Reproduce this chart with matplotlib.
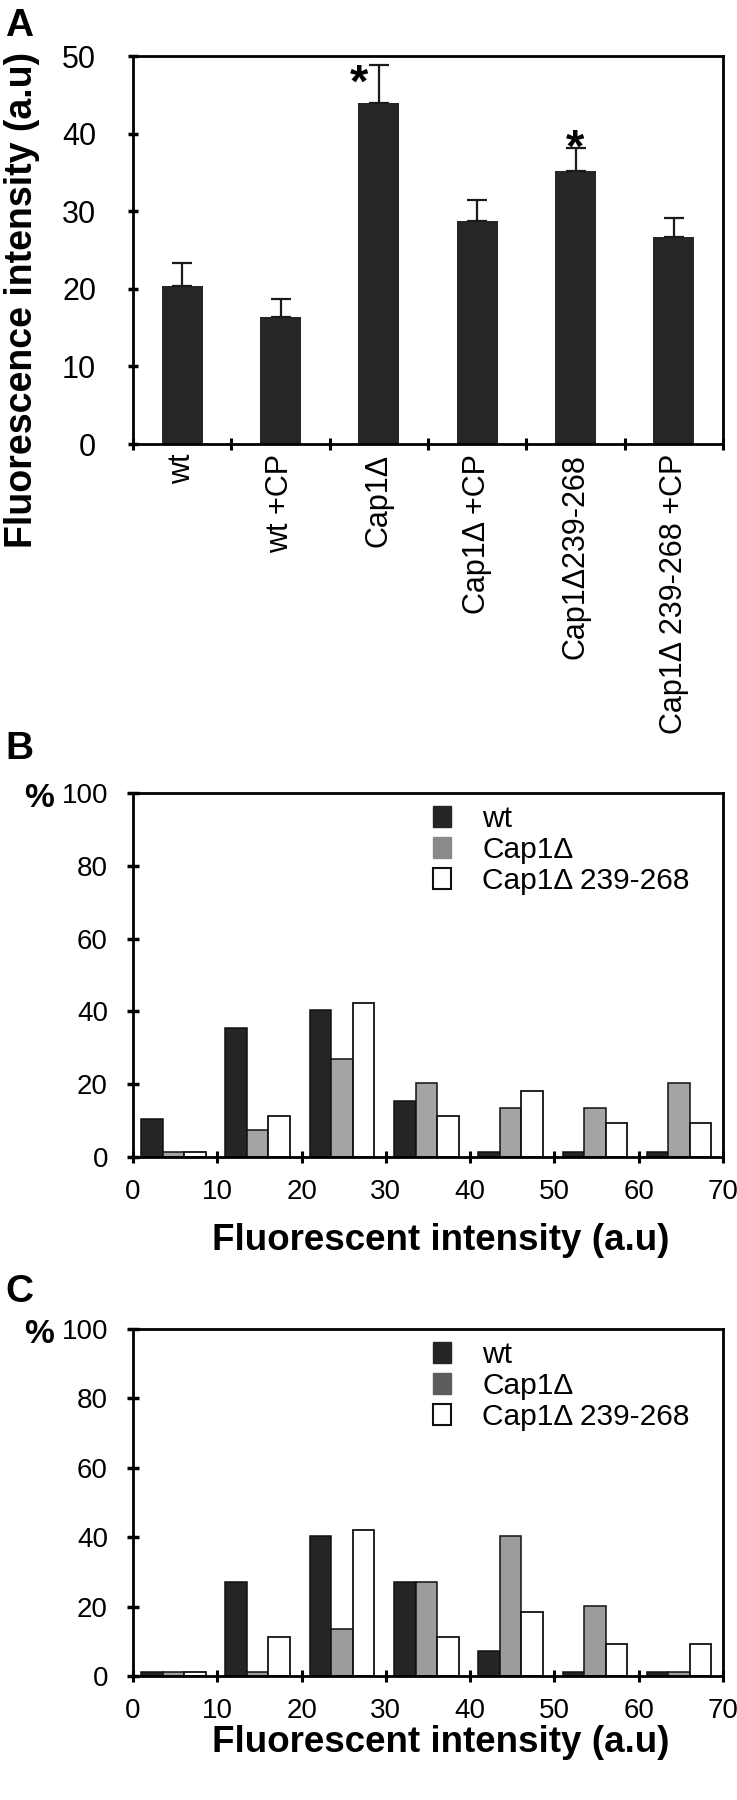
import matplotlib
matplotlib.use('Agg')
import matplotlib.pyplot as plt
from matplotlib.patches import Patch
import numpy as np

plt.rcParams['font.family'] = ['Liberation Sans', 'DejaVu Sans']

# ---------------- Data ----------------
# Panel A
a_categories = ['wt', 'wt +CP', 'Cap1Δ', 'Cap1Δ +CP', 'Cap1Δ239-268', 'Cap1Δ 239-268 +CP']
a_means = [20.4, 16.4, 44.0, 28.8, 35.2, 26.7]
a_errors = [2.9, 2.3, 4.8, 2.7, 2.9, 2.4]
a_significant = [False, False, True, False, True, False]

# Panels B and C (histograms, % of cells per intensity bin)
bin_starts = [0, 10, 20, 30, 40, 50, 60]
series_labels = ['wt', 'Cap1Δ', 'Cap1Δ 239-268']
b_wt = [10.4, 35.4, 40.3, 15.4, 1.3, 1.3, 1.3]
b_cap1 = [1.3, 7.3, 27.0, 20.3, 13.4, 13.4, 20.3]
b_cap1_239 = [1.3, 11.2, 42.3, 11.2, 18.2, 9.3, 9.3]
c_wt = [1.1, 27.2, 40.4, 27.2, 7.3, 1.1, 1.1]
c_cap1 = [1.1, 1.1, 13.5, 27.2, 40.4, 20.2, 1.1]
c_cap1_239 = [1.1, 11.3, 42.1, 11.3, 18.3, 9.2, 9.2]

W, H = 737, 1800
fig = plt.figure(figsize=(W / 100, H / 100), dpi=100)

SPINE_LW = 2.0


def frac_rect(left, top, right, bottom):
    return [left / W, 1 - bottom / H, (right - left) / W, (bottom - top) / H]


# ---------------- Panel A ----------------
axA = fig.add_axes(frac_rect(133, 56, 723, 444))
x = np.arange(len(a_categories))
axA.bar(x, a_means, width=0.42, color='#262626', zorder=2)
axA.errorbar(x, a_means, yerr=[np.zeros(len(x)), a_errors], fmt='none',
             ecolor='#1a1a1a', elinewidth=1.6, capsize=7, capthick=1.6, zorder=3)
star_dx = {2: -0.2, 4: 0.0}
star_dy = {2: -4.1, 4: -1.7}
for i, sig in enumerate(a_significant):
    if sig:
        axA.text(i + star_dx[i], a_means[i] + a_errors[i] + star_dy[i], '*',
                 fontsize=34, fontweight='bold', ha='center', va='baseline', zorder=4)
axA.set_xlim(-0.5, len(x) - 0.5)
axA.set_ylim(0, 50)
axA.set_yticks(np.arange(0, 51, 10))
axA.set_xticks(x)
axA.set_xticklabels(a_categories, rotation=90, fontsize=22)
axA.set_xticks(np.arange(-0.5, len(x), 1), minor=True)
axA.tick_params(axis='x', which='major', length=0, pad=7)
axA.tick_params(axis='x', which='minor', direction='inout', length=9, width=2.2)
axA.tick_params(axis='y', direction='inout', length=7, width=2.5, pad=23, labelsize=22)
for s in axA.spines.values():
    s.set_linewidth(SPINE_LW)
fig.text(5 / W, 1 - 26 / H, 'A', fontsize=28, fontweight='bold', ha='left', va='center')
fig.text(22 / W, 1 - 300 / H, 'Fluorescence intensity (a.u)', fontsize=27,
         fontweight='bold', rotation=90, ha='center', va='center')


# ---------------- Panels B / C ----------------
def hist_panel(rect, wt, cap1, cap1_239, gray, legend_gray, letter, letter_y, xlabel_y):
    ax = fig.add_axes(rect)
    starts = np.array(bin_starts, dtype=float)
    bw = 2.55
    x0 = 0.97
    ax.bar(starts + x0 + bw / 2, wt, width=bw, color='#252525', edgecolor='#111111',
           linewidth=1.1, zorder=2)
    ax.bar(starts + x0 + 1.5 * bw, cap1, width=bw, color=gray, edgecolor='#111111',
           linewidth=1.1, zorder=2)
    ax.bar(starts + x0 + 2.5 * bw, cap1_239, width=bw, color='white', edgecolor='#111111',
           linewidth=1.3, zorder=2)
    ax.set_xlim(0, 70)
    ax.set_ylim(0, 100)
    ax.set_xticks(np.arange(0, 71, 10))
    ax.set_yticks(np.arange(0, 101, 20))
    ax.tick_params(axis='x', direction='inout', length=9, width=2.2, pad=11, labelsize=20)
    ax.tick_params(axis='y', direction='inout', length=8, width=2.5, pad=14, labelsize=20)
    for s in ax.spines.values():
        s.set_linewidth(SPINE_LW)
    handles = [Patch(facecolor='#252525', edgecolor='#252525'),
               Patch(facecolor=legend_gray, edgecolor=legend_gray),
               Patch(facecolor='white', edgecolor='#111111', linewidth=1.5)]
    ax.legend(handles, series_labels, loc='upper left', bbox_to_anchor=(0.49, 0.995),
              frameon=False, fontsize=21.5, handlelength=0.62, handleheight=0.7,
              handletextpad=1.05, labelspacing=0.1, borderpad=0.35, borderaxespad=0.0)
    ax.text(-0.159, 0.985, '%', transform=ax.transAxes, fontsize=24, fontweight='bold',
            ha='center', va='center')
    fig.text(5 / W, 1 - letter_y / H, letter, fontsize=28, fontweight='bold',
             ha='left', va='center')
    fig.text(441 / W, 1 - xlabel_y / H, 'Fluorescent intensity (a.u)', fontsize=26.5,
             fontweight='bold', ha='center', va='center')
    return ax


hist_panel(frac_rect(133, 793, 723, 1157), b_wt, b_cap1, b_cap1_239,
           '#a4a4a4', '#8a8a8a', 'B', 749, 1241)
hist_panel(frac_rect(133, 1329, 723, 1676), c_wt, c_cap1, c_cap1_239,
           '#9c9c9c', '#5c5c5c', 'C', 1292, 1742)

fig.savefig('out.png', dpi=100, facecolor='white')
